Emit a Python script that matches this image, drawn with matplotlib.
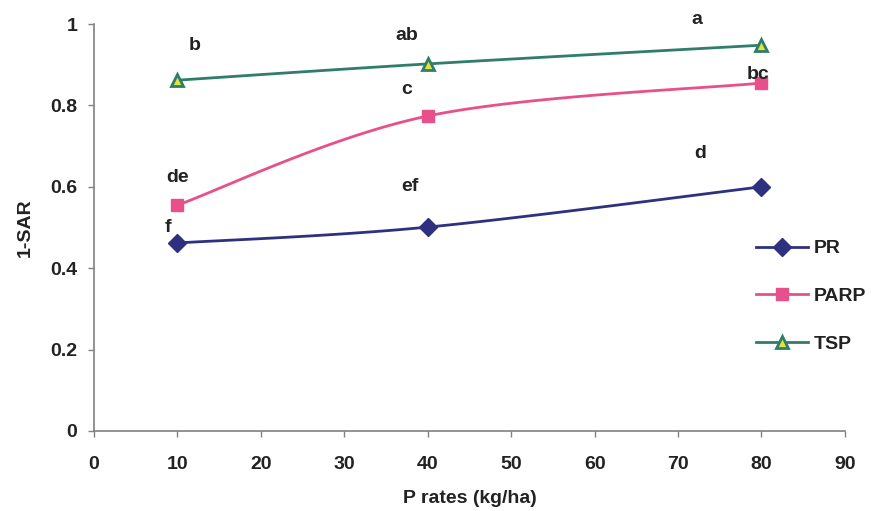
import numpy as np
import matplotlib
matplotlib.use("Agg")
import matplotlib.pyplot as plt

plt.rcParams['font.family'] = ['Liberation Sans', 'DejaVu Sans']
plt.rcParams['font.weight'] = 'bold'

p_rates = [10, 40, 80]
pr = [0.462, 0.501, 0.600]
parp = [0.555, 0.774, 0.855]
tsp = [0.862, 0.902, 0.948]

pr_letters = ["f", "ef", "d"]
parp_letters = ["de", "c", "bc"]
tsp_letters = ["b", "ab", "a"]

x_ticks = [0, 10, 20, 30, 40, 50, 60, 70, 80, 90]
y_ticks = [0, 0.2, 0.4, 0.6, 0.8, 1.0]
y_tick_labels = ["0", "0.2", "0.4", "0.6", "0.8", "1"]


def smooth(xs, ys, n=60):
    xs = np.asarray(xs, float); ys = np.asarray(ys, float)
    px, py = [], []
    m = len(xs)
    for i in range(m - 1):
        p0 = np.array([xs[max(i - 1, 0)], ys[max(i - 1, 0)]])
        p1 = np.array([xs[i], ys[i]])
        p2 = np.array([xs[i + 1], ys[i + 1]])
        p3 = np.array([xs[min(i + 2, m - 1)], ys[min(i + 2, m - 1)]])
        c1 = p1 + (p2 - p0) / 6.0
        c2 = p2 - (p3 - p1) / 6.0
        t = np.linspace(0, 1, n)[:, None]
        b = ((1 - t) ** 3) * p1 + 3 * ((1 - t) ** 2) * t * c1 + 3 * (1 - t) * t ** 2 * c2 + t ** 3 * p2
        px.extend(b[:, 0]); py.extend(b[:, 1])
    return px, py


fig = plt.figure(figsize=(8.71, 5.11), dpi=100)
ax = fig.add_axes([0.108, 0.1566, 0.862, 0.7964])

series = [
    ("PR", pr, dict(color="#2E3180", marker="D", ms=9, mfc="#2E3180", mec="#2E3180")),
    ("PARP", parp, dict(color="#E8508C", marker="s", ms=9, mfc="#E8508C", mec="#E8508C")),
    ("TSP", tsp, dict(color="#2F7D6A", marker="^", ms=9, mfc="#E3E33C", mec="#2F7D6A", mew=2)),
]
for name, ys, st in series:
    sx, sy = smooth(p_rates, ys)
    ax.plot(sx, sy, color=st["color"], lw=2, zorder=2)
    ax.plot(p_rates, ys, ls="none", marker=st["marker"], ms=st["ms"], mfc=st["mfc"],
            mec=st["mec"], mew=st.get("mew", 1), zorder=3)
    ax.plot([], [], color=st["color"], lw=2, marker=st["marker"], ms=st["ms"], mfc=st["mfc"],
            mec=st["mec"], mew=st.get("mew", 1), label=name)

fs = 14
lab_pos_pr = [(8.9, 0.501), (37.9, 0.600), (72.7, 0.683)]
lab_pos_parp = [(10.0, 0.624), (37.5, 0.838), (79.6, 0.877)]
lab_pos_tsp = [(12.1, 0.948), (37.5, 0.973), (72.3, 1.010)]
for letters, poss in [(pr_letters, lab_pos_pr), (parp_letters, lab_pos_parp), (tsp_letters, lab_pos_tsp)]:
    for t, (x, y) in zip(letters, poss):
        ax.text(x, y, t, fontsize=fs, fontweight="bold", ha="center", va="center", color="#222222",
                clip_on=False)

ax.set_xlim(0, 90)
ax.set_ylim(0, 1)
ax.set_xticks(x_ticks)
ax.set_yticks(y_ticks)
ax.set_yticklabels(y_tick_labels)
ax.tick_params(labelsize=fs, colors="#222222", length=4, width=1)
ax.tick_params(axis="both", color="#808080")
ax.tick_params(axis="x", pad=14)
ax.tick_params(axis="y", pad=8)
for s in ["top", "right"]:
    ax.spines[s].set_visible(False)
for s in ["left", "bottom"]:
    ax.spines[s].set_color("#808080")
    ax.spines[s].set_linewidth(1.2)

ax.set_xlabel("P rates (kg/ha)", fontsize=fs, fontweight="bold", color="#222222", labelpad=12)
ax.set_ylabel("1-SAR", fontsize=fs, fontweight="bold", color="#222222", labelpad=12)

leg = ax.legend(loc="upper left", bbox_to_anchor=(0.858, 0.513), frameon=False, fontsize=fs,
                handlelength=2.7, labelspacing=1.55, handletextpad=0.3)
for t in leg.get_texts():
    t.set_color("#222222")

fig.savefig("out.png", dpi=100, facecolor="white")
